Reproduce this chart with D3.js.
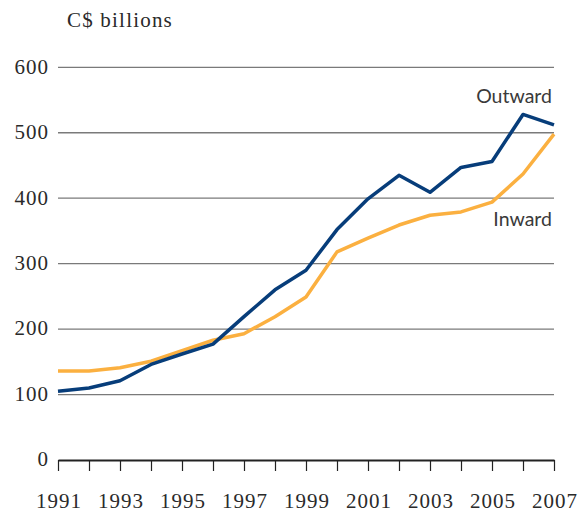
<!DOCTYPE html>
<html>
<head>
<meta charset="utf-8">
<script src="https://cdn.jsdelivr.net/npm/d3@7"></script>
<style>
  html, body { margin: 0; padding: 0; background: #fff; }
  svg { display: block; }
</style>
</head>
<body>
<svg id="chart" width="582" height="512"></svg>
<script>
// Canadian direct investment stock, C$ billions
const years = [1991, 1992, 1993, 1994, 1995, 1996, 1997, 1998, 1999,
               2000, 2001, 2002, 2003, 2004, 2005, 2006, 2007];
const outward = [105, 110, 121, 146, 162, 177, 219, 260, 290,
                 352, 399, 435, 409, 447, 456, 528, 512];
const inward = [136, 136, 141, 151, 167, 183, 193, 219, 249,
                318, 339, 359, 374, 379, 394, 437, 498];
const yTicks = [0, 100, 200, 300, 400, 500, 600];
const xLabelYears = [1991, 1993, 1995, 1997, 1999, 2001, 2003, 2005, 2007];

const svg = d3.select("#chart");
const plotLeft = 58, plotRight = 554, plotTop = 67.3, plotBottom = 460;

const x = d3.scaleLinear().domain([1991, 2007]).range([plotLeft, plotRight]);
const y = d3.scaleLinear().domain([0, 600]).range([plotBottom, plotTop]);

const serif = "'Liberation Serif', 'DejaVu Serif', serif";
const sans = "Lato, 'Open Sans', sans-serif";
const textColor = "#2a2a2a";

// horizontal gridlines
svg.append("g")
  .selectAll("line")
  .data(yTicks.filter(d => d > 0))
  .join("line")
  .attr("x1", plotLeft).attr("x2", plotRight)
  .attr("y1", d => y(d)).attr("y2", d => y(d))
  .attr("stroke", "#7a7a7a")
  .attr("stroke-width", 1.3);

// y tick labels
svg.append("g")
  .selectAll("text")
  .data(yTicks)
  .join("text")
  .attr("x", 49)
  .attr("y", d => y(d))
  .attr("dy", "0.3em")
  .attr("text-anchor", "end")
  .attr("font-family", serif)
  .attr("font-size", 21)
  .attr("letter-spacing", 1)
  .attr("fill", textColor)
  .text(d => d);

// unit title
svg.append("text")
  .attr("x", 67).attr("y", 27)
  .attr("font-family", serif)
  .attr("font-size", 21)
  .attr("letter-spacing", 1.2)
  .attr("fill", textColor)
  .text("C$ billions");

// x axis: a tick every year, labels every other year
const xAxis = d3.axisBottom(x)
  .tickValues(years)
  .tickSize(11)
  .tickSizeOuter(0)
  .tickFormat(d => xLabelYears.includes(d) ? d : "");
const gx = svg.append("g")
  .attr("transform", `translate(0,${plotBottom})`)
  .call(xAxis);
gx.select(".domain").attr("stroke", "#222").attr("stroke-width", 2.2);
gx.selectAll(".tick line").attr("stroke", "#222").attr("stroke-width", 1.2);
gx.selectAll(".tick text")
  .attr("y", 0)
  .attr("dy", 48)
  .attr("dx", 0.5)
  .attr("font-family", serif)
  .attr("font-size", 21)
  .attr("letter-spacing", 1)
  .attr("fill", textColor);

// series lines
const line = d3.line()
  .x((d, i) => x(years[i]))
  .y(d => y(d));

svg.append("path")
  .datum(inward)
  .attr("d", line)
  .attr("fill", "none")
  .attr("stroke", "#fbb040")
  .attr("stroke-width", 3.5)
  .attr("stroke-linejoin", "round");

svg.append("path")
  .datum(outward)
  .attr("d", line)
  .attr("fill", "none")
  .attr("stroke", "#073d7a")
  .attr("stroke-width", 3.5)
  .attr("stroke-linejoin", "round");

// series labels
svg.append("text")
  .attr("x", 552).attr("y", 103)
  .attr("text-anchor", "end")
  .attr("font-family", sans)
  .attr("font-size", 19.5)
  .attr("fill", "#3a3a3a")
  .text("Outward");

svg.append("text")
  .attr("x", 552).attr("y", 226)
  .attr("text-anchor", "end")
  .attr("font-family", sans)
  .attr("font-size", 19.5)
  .attr("fill", "#3a3a3a")
  .text("Inward");
</script>
</body>
</html>
